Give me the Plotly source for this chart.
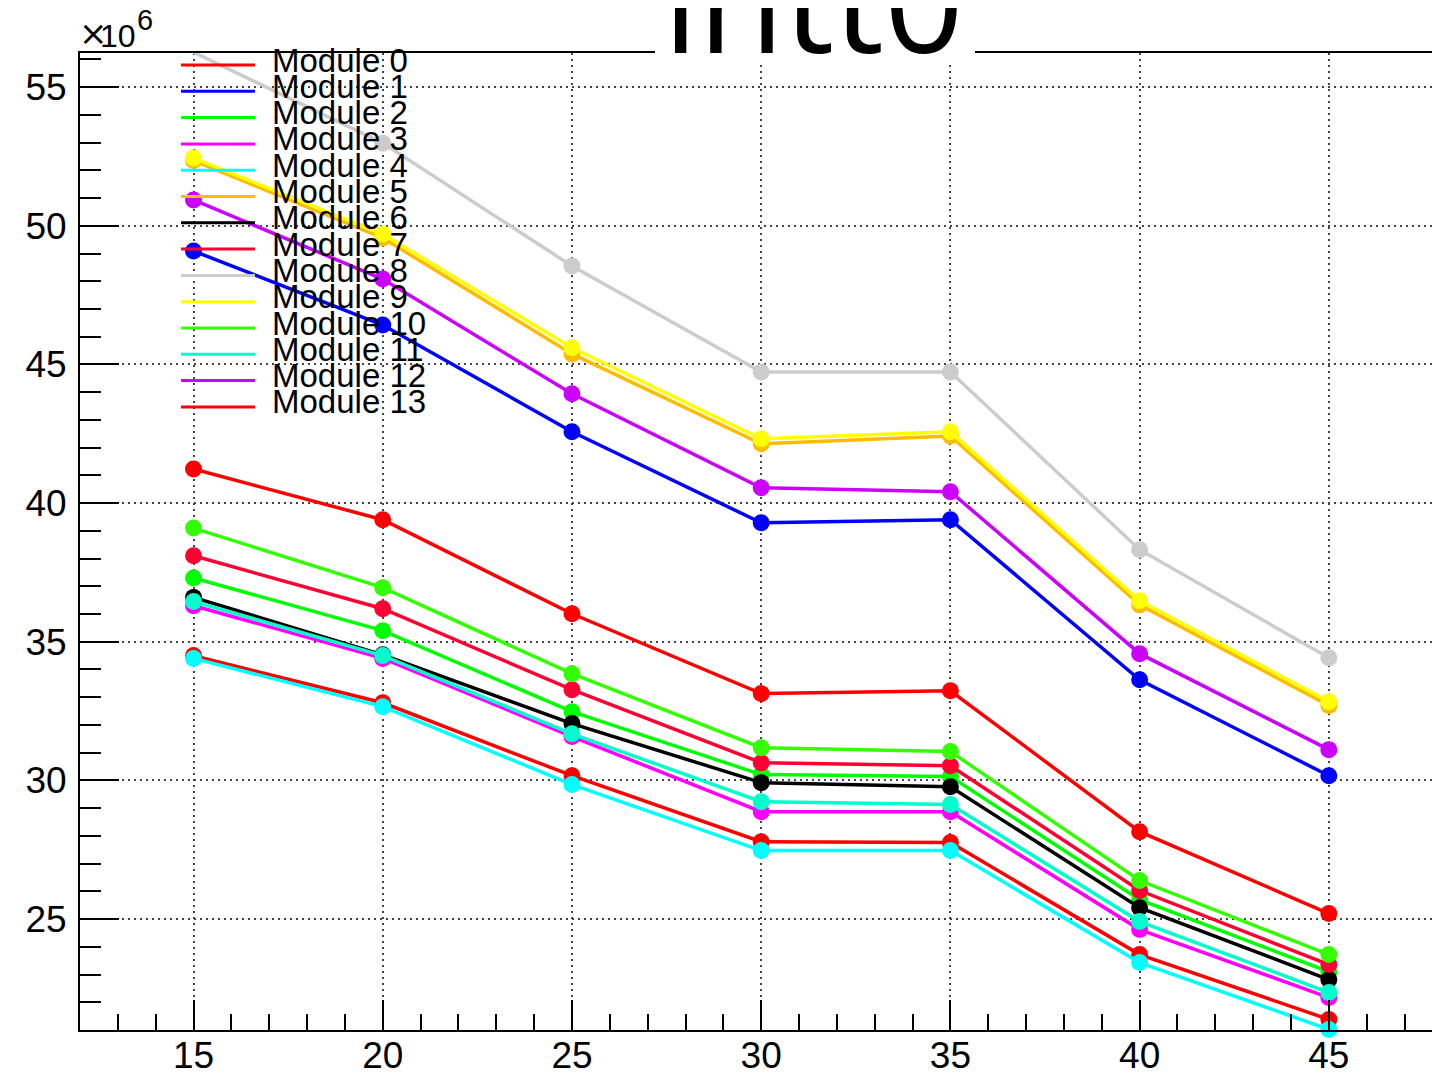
import plotly.graph_objects as go

# ---------------- data (values in units of 10^6) ----------------
x_values = [15, 20, 25, 30, 35, 40, 45]

module_names = [f"Module {i}" for i in range(14)]

module_0 = [34.50, 32.80, 30.17, 27.79, 27.76, 23.72, 21.38]
module_1 = [49.09, 46.42, 42.57, 39.29, 39.40, 33.63, 30.17]
module_2 = [37.30, 35.40, 32.48, 30.21, 30.14, 25.70, 23.10]
module_3 = [36.30, 34.40, 31.58, 28.87, 28.87, 24.62, 22.17]
module_4 = [34.40, 32.66, 29.85, 27.47, 27.47, 23.43, 21.02]
module_5 = [52.35, 49.56, 45.38, 42.14, 42.42, 36.33, 32.70]
module_6 = [36.60, 34.53, 32.05, 29.92, 29.77, 25.41, 22.82]
module_7 = [38.10, 36.19, 33.27, 30.64, 30.53, 26.03, 23.36]
module_8 = [56.26, 52.98, 48.55, 44.73, 44.73, 38.32, 34.42]
module_9 = [52.44, 49.70, 45.60, 42.32, 42.57, 36.48, 32.84]
module_10 = [39.10, 36.95, 33.85, 31.18, 31.04, 26.39, 23.72]
module_11 = [36.45, 34.50, 31.68, 29.23, 29.13, 24.91, 22.35]
module_12 = [50.93, 48.08, 43.94, 40.55, 40.41, 34.57, 31.11]
module_13 = [41.23, 39.40, 36.01, 33.13, 33.23, 28.15, 25.20]

module_values = [module_0, module_1, module_2, module_3, module_4, module_5, module_6,
                 module_7, module_8, module_9, module_10, module_11, module_12, module_13]

colors = ["#ff0000", "#0000ff", "#00ff00", "#ff00ff", "#00ffff", "#ffbb00", "#000000",
          "#ff0033", "#cccccc", "#ffff00", "#33ff00", "#00ffcc", "#cc00ff", "#ff0000"]

title_text = "intt0"
exponent_times = "×"
exponent_base = "10"
exponent_power = "6"

# ---------------- layout geometry ----------------
# the page body has an 8px margin, so the figure is laid out in page pixels minus 8
OFF = 8
W, H = 1440 - 2 * OFF, 1076 - 2 * OFF
ML, MR, MT, MB = 80 - OFF, 0, 53 - OFF, H - (1030 - OFF)
PW, PH = W - ML - MR, H - MT - MB


def px_x(px):
    return (px - OFF - ML) / PW


def px_y(py):
    return (H - MB - (py - OFF)) / PH


fig = go.Figure()
for name, vals, col in zip(module_names, module_values, colors):
    fig.add_trace(go.Scatter(
        x=x_values, y=vals, name=name, mode="lines+markers",
        line=dict(color=col, width=3.5),
        marker=dict(color=col, size=17),
        showlegend=False, cliponaxis=False,
    ))

axis_font = dict(family="Liberation Sans, Arial, sans-serif", size=37, color="black")
grid_common = dict(showgrid=True, gridcolor="#444444", gridwidth=1.5, griddash="2px,4px",
                   zeroline=False, showline=True, linecolor="black", linewidth=2,
                   ticks="inside", tickwidth=2, tickcolor="black",
                   tickfont=axis_font, automargin=False)

x_right = 15 + (1432 - 194) / 37.83

fig.update_layout(
    width=W, height=H,
    margin=dict(l=ML, r=MR, t=MT, b=MB, autoexpand=False),
    paper_bgcolor="white", plot_bgcolor="white",
    xaxis=dict(range=[12, x_right], tick0=0, dtick=5, ticklen=30, mirror=True,
               minor=dict(dtick=1, ticks="inside", ticklen=16, tickwidth=2,
                          tickcolor="black", showgrid=False),
               ticklabelstandoff=-8, **grid_common),
    yaxis=dict(range=[21, 56.23], tick0=0, dtick=5, ticklen=39, mirror=False,
               minor=dict(dtick=1, ticks="inside", ticklen=21, tickwidth=2,
                          tickcolor="black", showgrid=False),
               ticklabelstandoff=4, **grid_common),
)

shapes = []
annotations = []

# white title box covering the frame
shapes.append(dict(type="rect", xref="paper", yref="paper",
                   x0=px_x(655), x1=px_x(975), y0=px_y(62), y1=px_y(-5),
                   fillcolor="white", line=dict(width=0), layer="above"))
annotations.append(dict(text=title_text, xref="paper", yref="paper",
                        x=px_x(813), y=px_y(96), xanchor="center", yanchor="bottom",
                        showarrow=False,
                        font=dict(family="Open Sans", size=140, color="black")))

# exponent label
annotations.append(dict(text=exponent_times, xref="paper", yref="paper",
                        x=px_x(77), y=px_y(55), xanchor="left", yanchor="bottom",
                        showarrow=False, font=dict(family="DejaVu Sans", size=34, color="black")))
annotations.append(dict(text=exponent_base, xref="paper", yref="paper",
                        x=px_x(98), y=px_y(56), xanchor="left", yanchor="bottom",
                        showarrow=False, font=dict(family="Liberation Sans", size=32, color="black")))
annotations.append(dict(text=exponent_power, xref="paper", yref="paper",
                        x=px_x(135), y=px_y(38), xanchor="left", yanchor="bottom",
                        showarrow=False, font=dict(family="Liberation Sans", size=29, color="black")))

# legend (ROOT-style, tightly packed)
row0, row_step = 65, 26.3
for i, (name, col) in enumerate(zip(module_names, colors)):
    ly = row0 + row_step * i
    shapes.append(dict(type="line", xref="paper", yref="paper",
                       x0=px_x(181), x1=px_x(255), y0=px_y(ly), y1=px_y(ly),
                       line=dict(color=col, width=3), layer="above"))
    annotations.append(dict(text=name, xref="paper", yref="paper",
                            x=px_x(270), y=px_y(ly - 5), xanchor="left", yanchor="middle",
                            showarrow=False,
                            font=dict(family="Liberation Sans", size=33, color="black")))

fig.update_layout(shapes=shapes, annotations=annotations)

fig.write_html("out.html")
